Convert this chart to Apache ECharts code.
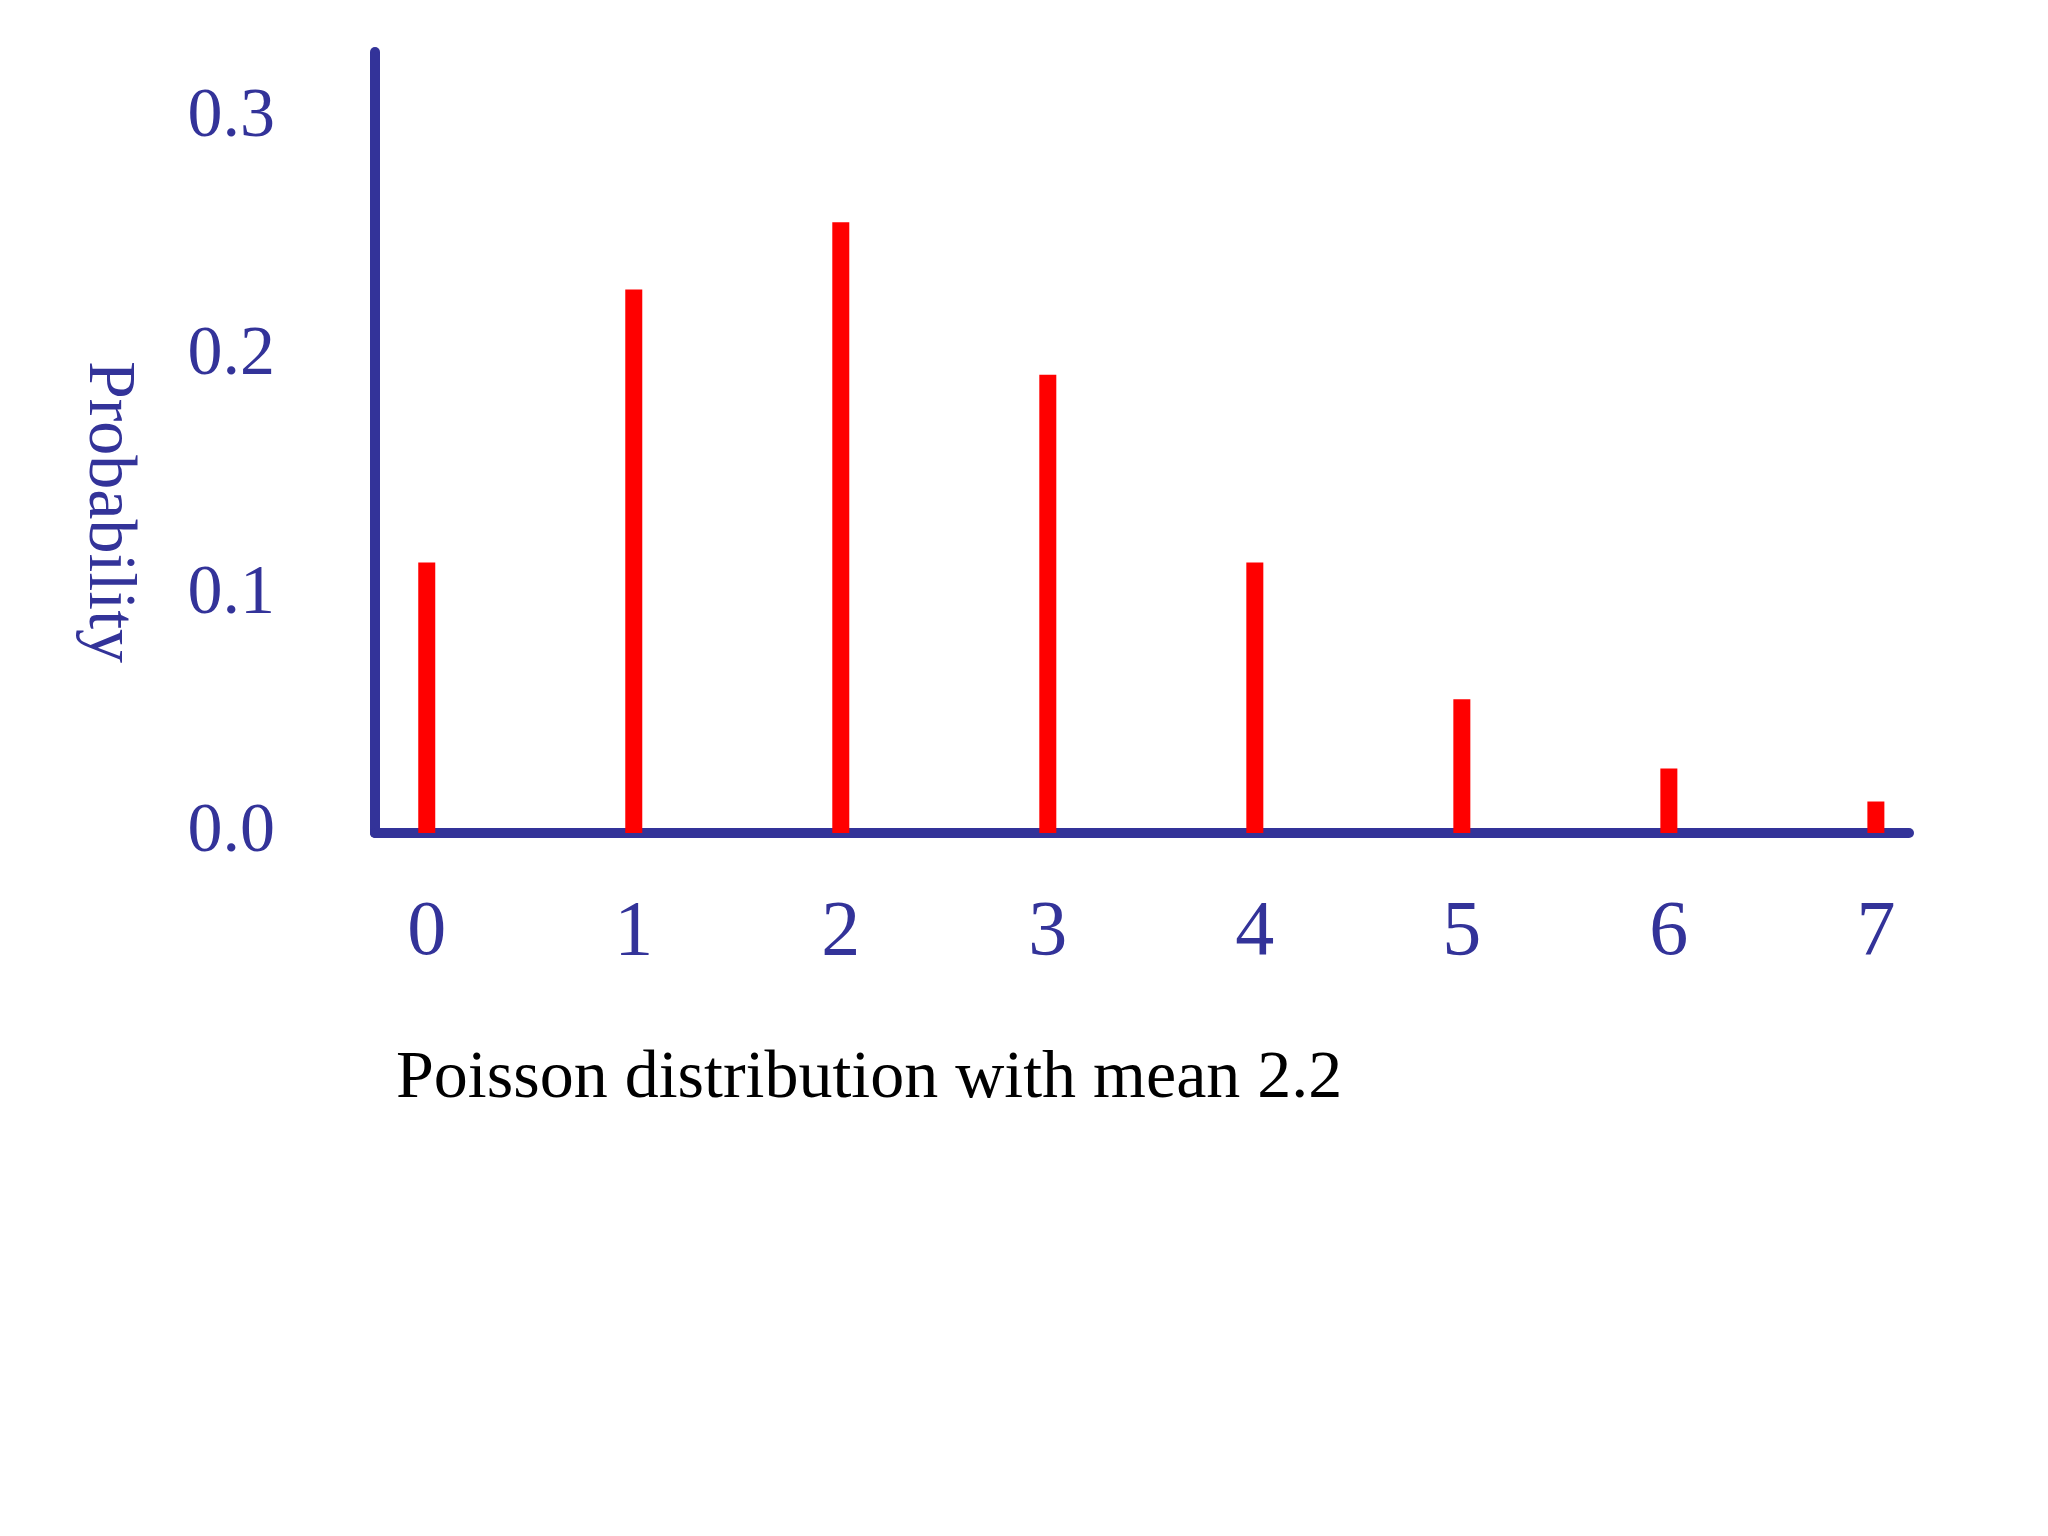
<!DOCTYPE html>
<html>
<head>
<meta charset="utf-8">
<script src="https://cdn.jsdelivr.net/npm/echarts@6/dist/echarts.min.js"></script>
<style>html,body{margin:0;background:#fff}#chart{width:2048px;height:1536px}</style>
</head>
<body>
<div id="chart"></div>
<script>
// Poisson 分布，均值 2.2
const counts = [0, 1, 2, 3, 4, 5, 6, 7]
const probabilities = [0.1134, 0.2278, 0.256, 0.192, 0.1134, 0.056, 0.027, 0.0132]
const yTicks = [0, 0.1, 0.2, 0.3]

const axisColor = '#333399'
const serif = 'Liberation Serif, Times New Roman, serif'

const chart = echarts.init(document.getElementById('chart'))
chart.setOption({
  animation: false,
  grid: { left: 375, right: 139, top: 52, bottom: 703 },
  xAxis: {
    type: 'value',
    min: -0.25,
    max: 7.16,
    splitLine: { show: false },
    axisLine: { lineStyle: { color: axisColor, width: 10 } },
    axisTick: { show: false },
    axisLabel: {
      customValues: counts,
      color: axisColor,
      fontFamily: serif,
      fontSize: 78,
      margin: 62
    }
  },
  yAxis: {
    type: 'value',
    min: 0,
    max: 0.3273,
    splitLine: { show: false },
    axisLine: { show: true, onZero: false, lineStyle: { color: axisColor, width: 10 } },
    axisTick: { show: false },
    axisLabel: {
      customValues: yTicks,
      formatter: v => v.toFixed(1),
      color: axisColor,
      fontFamily: serif,
      fontSize: 70,
      margin: 100,
      padding: [64, 0, 0, 0]
    }
  },
  graphic: [
    {
      type: 'text',
      x: 108, y: 512,
      rotation: -Math.PI / 2,
      style: {
        text: 'Probability',
        fill: axisColor,
        font: '68px ' + serif,
        align: 'center',
        verticalAlign: 'middle'
      }
    },
    {
      type: 'text',
      x: 396, y: 1079,
      style: {
        text: 'Poisson distribution with mean 2.2',
        fill: '#000',
        font: '68px ' + serif,
        align: 'left',
        verticalAlign: 'middle'
      }
    }
  ],
  series: [{
    type: 'bar',
    barWidth: 17,
    itemStyle: { color: '#ff0000' },
    data: counts.map((c, i) => [c, probabilities[i]])
  }]
})
</script>
</body>
</html>
